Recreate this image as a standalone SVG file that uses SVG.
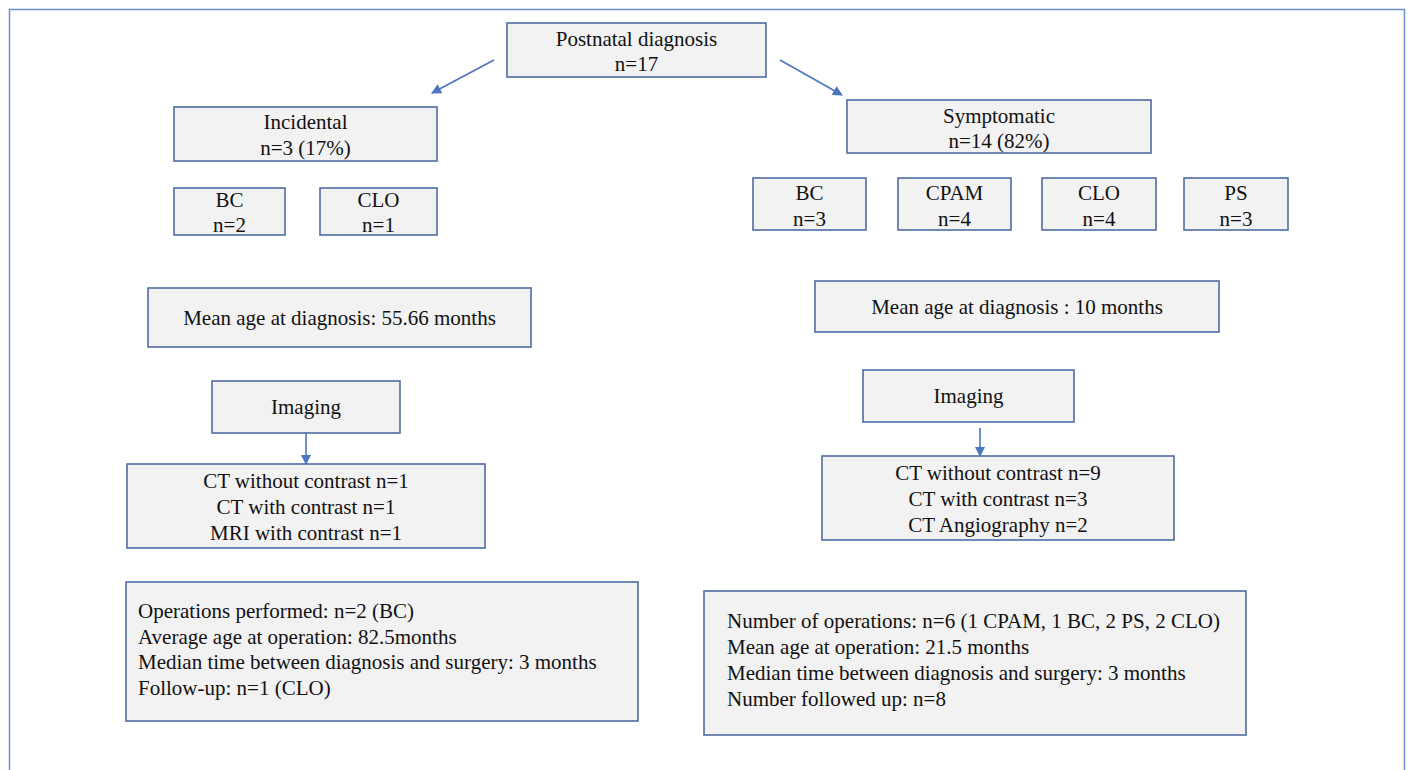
<svg xmlns="http://www.w3.org/2000/svg" width="1412" height="770" viewBox="0 0 1412 770">
<defs>
<style>
.box{fill:#f2f2f3;stroke:#4f6ba3;stroke-width:1.6}
.t{font-family:"Liberation Serif","Times New Roman",serif;font-size:21px;fill:#111}
.c{text-anchor:middle}
.conn{stroke:#4a76c0;stroke-width:1.6;fill:none}
</style>
<marker id="ah" viewBox="0 0 10 10" refX="9" refY="5" markerWidth="7" markerHeight="7" markerUnits="userSpaceOnUse" orient="auto">
<path d="M0,0 L10,5 L0,10 z" fill="#4a76c0"/>
</marker>
<marker id="ah2" viewBox="0 0 10 10" refX="9" refY="5" markerWidth="12" markerHeight="10" markerUnits="userSpaceOnUse" orient="auto">
<path d="M0,0 L10,5 L0,10 z" fill="#4a76c0"/>
</marker>
</defs>
<rect x="0" y="0" width="1412" height="770" fill="#ffffff"/>
<path d="M9.5,770 V9.5 H1404.5 V770" fill="none" stroke="#6b8fd0" stroke-width="1.5"/>

<g id="connectors">
<line class="conn" x1="494" y1="60" x2="432" y2="93" marker-end="url(#ah2)"/>
<line class="conn" x1="780" y1="60" x2="842" y2="95" marker-end="url(#ah2)"/>
<line class="conn" x1="306" y1="433" x2="306" y2="464" marker-end="url(#ah2)"/>
<line class="conn" x1="980" y1="428" x2="980" y2="456" marker-end="url(#ah2)"/>
</g>

<g id="postnatal">
<rect class="box" x="507" y="23" width="259" height="54"/>
<text class="t c" x="636.5" y="46">Postnatal diagnosis</text>
<text class="t c" x="636.5" y="71">n=17</text>
</g>

<g id="incidental">
<rect class="box" x="174" y="107" width="263" height="54"/>
<text class="t c" x="305.5" y="129">Incidental</text>
<text class="t c" x="305.5" y="155">n=3 (17%)</text>
</g>

<g id="inc-bc">
<rect class="box" x="174" y="188" width="111" height="47"/>
<text class="t c" x="229.5" y="207">BC</text>
<text class="t c" x="229.5" y="232">n=2</text>
</g>
<g id="inc-clo">
<rect class="box" x="320" y="188" width="117" height="47"/>
<text class="t c" x="378.5" y="207">CLO</text>
<text class="t c" x="378.5" y="232">n=1</text>
</g>

<g id="symptomatic">
<rect class="box" x="847" y="100" width="304" height="53"/>
<text class="t c" x="999" y="123">Symptomatic</text>
<text class="t c" x="999" y="148">n=14 (82%)</text>
</g>

<g id="sym-bc">
<rect class="box" x="753" y="178" width="113" height="52"/>
<text class="t c" x="809.5" y="200">BC</text>
<text class="t c" x="809.5" y="226">n=3</text>
</g>
<g id="sym-cpam">
<rect class="box" x="898" y="178" width="113" height="52"/>
<text class="t c" x="954.5" y="200">CPAM</text>
<text class="t c" x="954.5" y="226">n=4</text>
</g>
<g id="sym-clo">
<rect class="box" x="1042" y="178" width="114" height="52"/>
<text class="t c" x="1099" y="200">CLO</text>
<text class="t c" x="1099" y="226">n=4</text>
</g>
<g id="sym-ps">
<rect class="box" x="1184" y="178" width="104" height="52"/>
<text class="t c" x="1236" y="200">PS</text>
<text class="t c" x="1236" y="226">n=3</text>
</g>

<g id="inc-age">
<rect class="box" x="148" y="288" width="383" height="59"/>
<text class="t c" x="339.5" y="325">Mean age at diagnosis: 55.66 months</text>
</g>
<g id="sym-age">
<rect class="box" x="815" y="281" width="404" height="51"/>
<text class="t c" x="1017" y="314">Mean age at diagnosis : 10 months</text>
</g>

<g id="inc-imaging">
<rect class="box" x="212" y="381" width="188" height="52"/>
<text class="t c" x="306" y="414">Imaging</text>
</g>
<g id="sym-imaging">
<rect class="box" x="863" y="370" width="211" height="52"/>
<text class="t c" x="968.5" y="403">Imaging</text>
</g>

<g id="inc-ct">
<rect class="box" x="127" y="464" width="358" height="84"/>
<text class="t c" x="306" y="488">CT without contrast n=1</text>
<text class="t c" x="306" y="514">CT with contrast n=1</text>
<text class="t c" x="306" y="540">MRI with contrast n=1</text>
</g>
<g id="sym-ct">
<rect class="box" x="822" y="456" width="352" height="84"/>
<text class="t c" x="998" y="480">CT without contrast n=9</text>
<text class="t c" x="998" y="506">CT with contrast n=3</text>
<text class="t c" x="998" y="532">CT Angiography n=2</text>
</g>

<g id="inc-ops">
<rect class="box" x="126" y="582" width="512" height="139"/>
<text class="t" x="138" y="618">Operations performed: n=2 (BC)</text>
<text class="t" x="138" y="644">Average age at operation: 82.5months</text>
<text class="t" x="138" y="669">Median time between diagnosis and surgery: 3 months</text>
<text class="t" x="138" y="695">Follow-up: n=1 (CLO)</text>
</g>
<g id="sym-ops">
<rect class="box" x="704" y="591" width="542" height="144"/>
<text class="t" x="727" y="628">Number of operations: n=6 (1 CPAM, 1 BC, 2 PS, 2 CLO)</text>
<text class="t" x="727" y="654">Mean age at operation: 21.5 months</text>
<text class="t" x="727" y="680">Median time between diagnosis and surgery: 3 months</text>
<text class="t" x="727" y="706">Number followed up: n=8</text>
</g>
</svg>
